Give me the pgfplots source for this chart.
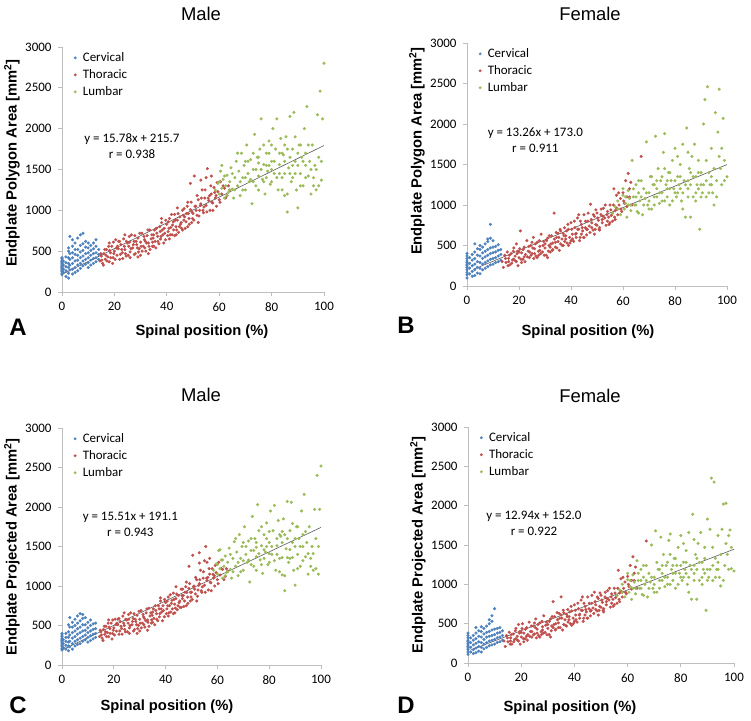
\documentclass[border=0pt]{standalone}
\usepackage{pgfplots}
\pgfplotsset{compat=1.18}
\usepackage{fontspec}
\setmainfont{Liberation Sans}
\newfontfamily\carl{Carlito}
\definecolor{cerv}{RGB}{79,129,189}
\definecolor{thor}{RGB}{192,80,77}
\definecolor{lumb}{RGB}{155,187,89}
\definecolor{axgray}{RGB}{190,190,190}
\definecolor{fitline}{RGB}{90,90,90}

\pgfplotsset{
  panel/.style={scale only axis,
    xmin=0,xmax=100,ymin=0,ymax=3000,
    xtick={0,20,...,100},ytick={0,500,...,3000},
    axis lines*=left,axis line style={draw=axgray,line width=0.8bp,-},
    xtick pos=left,ytick pos=left,
    tick style={draw=axgray,line width=0.8bp},tick align=outside,
    major tick length=4bp,
    tick label style={font=\carl\fontsize{13}{15}\selectfont},
    xticklabel style={yshift=-3bp},yticklabel style={xshift=-3bp},
    /pgf/number format/assume math mode=true,
    /pgf/number format/set thousands separator={},
    clip=false,
    legend cell align=left,
    legend image code/.code={\path[draw=none,fill=none] (0,0) rectangle (0.3cm,0.01cm);\fill[##1] (0.1cm,0cm) circle (1.2bp);},
    legend style={at={(0.035,0.99)},anchor=north west,draw=none,fill=none,
      font=\carl\fontsize{13}{16}\selectfont,row sep=2.5bp,inner sep=1pt},
  },
  cv/.style={only marks,mark=*,mark size=1.35bp,color=cerv,mark options={draw=none}},
  th/.style={only marks,mark=*,mark size=1.35bp,color=thor,mark options={draw=none}},
  lu/.style={only marks,mark=*,mark size=1.35bp,color=lumb,mark options={draw=none}},
  fit/.style={draw=fitline,line width=0.6bp,mark=none},
}

\begin{document}
\begin{tikzpicture}
\path[use as bounding box] (0,0) rectangle (751bp,-721bp);

% ---------------- A: male, polygon area
\begin{axis}[panel,at={(62bp,-292bp)},anchor=south west,width=262bp,height=245bp]
\addplot[cv] coordinates {
(0,210) (0,230) (0,250) (0,260) (0,275) (0,290) (0,300) (0,310) (0,320) (0,335) (0,350) (0,360) (0,375) (0,390) (0,410) (0,420)
(0.5,240) (0.5,280) (0.5,330) (0.5,380)
(1.5,190) (1.5,260) (1.5,310) (1.5,360) (1.5,430)
(2.5,170) (2.5,230) (2.5,300) (2.5,350) (2.5,420) (2.5,500) (2.5,540)
(3,270) (3,330) (3,400) (3,470) (3,680)
(4,220) (4,280) (4,350) (4,420) (4,480) (4,560) (4,640)
(5,240) (5,300) (5,380) (5,460) (5,520) (5,600)
(6,260) (6,330) (6,390) (6,450) (6,520) (6,660)
(7,290) (7,350) (7,420) (7,490) (7,570) (7,700)
(8,320) (8,380) (8,440) (8,510) (8,590) (8,720)
(9,340) (9,400) (9,470) (9,550) (9,620)
(10,300) (10,360) (10,420) (10,480) (10,540) (10,600)
(11,330) (11,390) (11,450) (11,510) (11,570)
(12,350) (12,410) (12,470) (12,530) (12,600)
(13,370) (13,420) (13,480) (13,560) (13,640)
(14,400) (14,460) (14,520)
};
\addlegendentry{Cervical}
\addplot[th] coordinates {
(14.5,380) (15,440) (15.5,350) (16,470) (16.5,400) (17,520) (17.5,430) (18,370) (18.5,480) (19,560) (19.5,420) (20,500) (20.5,640) (21,450) (21.5,530) (22,400) (22.5,580) (23,480) (23.5,650) (24,520) (24.5,440) (25,600) (25.5,560) (26,490) (26.5,700) (27,540) (27.5,620) (28,470) (28.5,580) (29,660) (29.5,530) (30,610) (30.5,720) (31,560) (31.5,640) (32,500) (32.5,690) (33,600) (33.5,760) (34,650) (34.5,560) (35,700) (35.5,620) (36,780) (36.5,680) (37,590) (37.5,740) (38,850) (38.5,700) (39,780) (39.5,640) (40,830) (40.5,740) (41,900) (41.5,790) (42,700) (42.5,860) (43,950) (43.5,800) (44,880) (44.5,730) (45,920) (45.5,850) (46,1000) (46.5,880) (47,780) (47.5,960) (48,1100) (48.5,900) (49,1010) (49.5,850) (50,960) (50.5,1420) (51,1050) (51.5,940) (52,1130) (52.5,1000) (53,1080) (53.5,1250) (54,970) (54.5,1150) (55,1060) (55.5,1510) (56,1120) (56.5,1000) (57,1200) (57.5,1090) (58,1280) (58.5,1150) (59,1050) (59.5,1230) (60,1130) (60.5,1350) (61,1200) (62,1270) (63,1180) (64,1250)
(15.2,390) (16.8,450) (18.2,510) (19.8,470) (21.2,560) (22.8,520) (24.2,470) (25.8,610) (27.2,580) (28.8,540) (30.2,560) (31.8,620) (33.2,560) (34.8,660) (36.2,720) (37.8,680) (39.2,720) (40.8,780) (42.2,820) (43.8,760) (45.2,830) (46.8,920) (48.2,960) (49.8,900) (51.2,1000) (52.8,1060) (54.2,1040) (55.8,1150) (57.2,1100) (58.8,1180) (22,620) (30,450) (35,560) (41,650) (46,760) (52,850) (57,1420) (18,600) (26,420) (44,1030)
(14.8,470) (15.8,330) (16.3,520) (17.2,380) (17.8,560) (18.6,420) (19.3,350) (19.6,610) (20.3,400) (20.8,540) (21.6,620) (22.3,460) (23.2,410) (23.8,560) (24.6,620) (25.3,450) (25.7,680) (26.3,530) (27.6,460) (27.8,690) (28.3,620) (29.2,490) (29.7,720) (30.6,500) (31.3,680) (31.6,540) (32.3,600) (32.8,760) (33.6,520) (34.3,700) (34.6,610) (35.3,760) (35.8,540) (36.6,620) (37.3,800) (37.6,650) (38.3,760) (38.8,600) (39.6,880) (40.3,690) (40.6,860) (41.3,700) (41.8,950) (42.6,760) (43.3,880) (43.6,700) (44.3,960) (44.8,800) (45.6,780) (46.3,940) (46.6,1020) (47.3,860) (47.8,1050) (48.6,830) (49.3,1100) (49.6,980) (50.3,880) (50.8,1050) (51.6,1180) (52.3,930) (53.2,1150) (53.8,1000) (54.6,1250) (55.3,980) (56.3,1180) (56.8,1300) (57.6,1000) (58.3,1220) (59.2,1340) (60.3,1100) (61.5,1300) (62.5,1150) (63.5,1300) (49,1330) (53,1370) (55,1400) (38,900) (24,700) (29,430) (33,470) (43,690) (48,800)
};
\addlegendentry{Thoracic}
\addplot[lu] coordinates {
(58.5,1250) (59.5,1330) (60,1200) (60.5,1480) (61,1270) (61.5,1380) (62,1150) (62.5,1300) (63,1430) (63.5,1220) (64,1350) (64.5,1520) (65,1260) (65.5,1150) (66,1400) (66.5,1600) (67,1300) (67.5,1480) (68,1180) (68.5,1700) (69,1400) (69.5,1550) (70,1250) (70.5,1800) (71,1450) (71.5,1350) (72,1620) (72.5,1080) (73,1500) (73.5,1930) (74,1300) (74.5,1650) (75,1420) (75.5,1750) (76,2120) (76.5,1380) (77,1560) (77.5,1200) (78,1700) (78.5,1480) (79,1850) (79.5,1320) (80,1600) (80.5,2000) (81,1450) (81.5,1750) (82,2120) (82.5,1250) (83,1560) (83.5,1880) (84,1400) (84.5,1680) (85,1180) (85.5,1900) (86,980) (86.5,1520) (87,2150) (87.5,1350) (88,1750) (88.5,2200) (89,1600) (89.5,1250) (90,1030) (90.5,1800) (91,1450) (91.5,1650) (92,1300) (92.5,2000) (93,1550) (93.5,2270) (94,1420) (94.5,1600) (95,1200) (95.5,1800) (96,1400) (96.5,1550) (97,1250) (97.5,2170) (98,1650) (98.5,2460) (99,1370) (99.5,2120) (100,2800)
(65,1450) (70,1600) (72,1380) (75,1250) (78,1400) (80,1350) (83,1450) (85,1600) (88,1400) (90,1550) (93,1700) (96,1300) (68,1350) (74,1500) (79,1550) (84,1700) (87,1650) (91,1800) (63,1180) (77,1800)
(60,1350) (61,1550) (62,1420) (64,1250) (66,1250) (67,1700) (69,1250) (71,1600) (73,1350) (73,1700) (75,1580) (76,1500) (77,1350) (79,1700) (80,1800) (81,1600) (82,1400) (83,1700) (84,1250) (85,1450) (86,1750) (86,1200) (87,1450) (88,1550) (89,1900) (90,1700) (91,1300) (92,1600) (94,1800) (95,1500) (97,1500) (98,1300) (99,1600) (80,1500) (70,1400) (75,1650) (85,1800) (89,1450) (93,1400) (78,1550)
};
\addlegendentry{Lumbar}
\addplot[fit,forget plot] coordinates {(0,215.7) (100,1793.7)};
\node[font=\carl\fontsize{13}{16}\selectfont,align=center] at (axis cs:26.7,1790) {y = 15.78x + 215.7\\r = 0.938};
\end{axis}

% ---------------- B: female, polygon area
\begin{axis}[panel,at={(467bp,-286bp)},anchor=south west,width=260bp,height=243bp]
\addplot[cv] coordinates {
(0,100) (0,140) (0,170) (0,200) (0,230) (0,250) (0,270) (0,290) (0,310) (0,340) (0,370) (0,400)
(1,150) (1,220) (1,280) (1,350)
(2,120) (2,180) (2,250) (2,320) (2,390)
(3,130) (3,200) (3,270) (3,340) (3,420) (3,520)
(4,160) (4,230) (4,300) (4,380) (4,460)
(5,150) (5,220) (5,290) (5,370) (5,450) (5,500)
(6,200) (6,270) (6,340) (6,410) (6,480)
(7,220) (7,290) (7,360) (7,430) (7,520)
(8,240) (8,310) (8,380) (8,450) (8,550) (8,580)
(9,260) (9,330) (9,400) (9,470) (9,590) (9,760)
(10,270) (10,340) (10,410) (10,480) (10,560)
(11,290) (11,350) (11,420) (11,490)
(12,300) (12,370) (12,440) (12,510)
(13,320) (13,390) (13,450)
};
\addlegendentry{Cervical}
\addplot[th] coordinates {
(13.5,300) (14,230) (14.5,380) (15,290) (15.5,420) (16,340) (16.5,260) (17,400) (17.5,320) (18,470) (18.5,370) (19,300) (19.5,430) (20,350) (20.5,680) (21,410) (21.5,330) (22,480) (22.5,390) (23,560) (23.5,430) (24,350) (24.5,500) (25,400) (25.5,600) (26,460) (26.5,370) (27,540) (27.5,430) (28,490) (28.5,640) (29,420) (29.5,550) (30,470) (30.5,380) (31,590) (31.5,500) (32,420) (32.5,620) (33,530) (33.5,900) (34,480) (34.5,600) (35,550) (35.5,440) (36,680) (36.5,580) (37,500) (37.5,720) (38,620) (38.5,530) (39,700) (39.5,600) (40,780) (40.5,640) (41,550) (41.5,720) (42,650) (42.5,840) (43,700) (43.5,600) (44,760) (44.5,680) (45,880) (45.5,720) (46,630) (46.5,800) (47,740) (47.5,1010) (48,780) (48.5,690) (49,860) (49.5,760) (50,900) (50.5,810) (51,720) (51.5,880) (52,780) (52.5,960) (53,840) (53.5,750) (54,920) (54.5,850) (55,1000) (55.5,870) (56,800) (56.5,1200) (57,930) (57.5,1120) (58,880) (58.5,1000) (59,1080) (59.5,920) (60,1150) (60.5,1020) (61,1300) (61.5,980) (62,1390) (62.5,1100) (63,1280) (67,1600)
(16,300) (18,330) (20,420) (22,360) (24,420) (26,400) (28,440) (30,520) (32,480) (34,540) (36,520) (38,580) (40,560) (42,600) (44,640) (46,700) (48,720) (50,750) (52,820) (54,800) (56,900) (58,950) (21,290) (27,350) (33,450) (39,500) (45,600) (51,690) (57,820) (35,650)
(14.8,340) (15.8,250) (16.3,380) (17.2,280) (17.8,430) (18.6,310) (19.3,400) (19.6,250) (20.3,460) (20.8,330) (21.6,450) (22.3,300) (23.2,360) (23.8,490) (24.6,380) (25.3,470) (25.7,340) (26.3,520) (27.6,380) (27.8,560) (28.3,400) (29.2,500) (29.7,380) (30.6,560) (31.3,430) (31.6,620) (32.3,520) (32.8,440) (33.6,580) (34.3,660) (34.6,470) (35.3,600) (35.8,700) (36.6,500) (37.3,620) (37.6,550) (38.3,680) (38.8,760) (39.6,530) (40.3,700) (40.6,580) (41.3,800) (41.8,640) (42.6,700) (43.3,560) (43.6,800) (44.3,720) (44.8,600) (45.6,800) (46.3,700) (46.6,900) (47.3,660) (47.8,820) (48.6,880) (49.3,700) (49.6,940) (50.3,840) (50.8,700) (51.6,950) (52.3,860) (53.2,1000) (53.8,880) (54.6,760) (55.3,940) (56.3,1000) (56.8,850) (57.6,960) (58.3,1150) (59.2,950) (60.3,1050) (61.5,1100) (62.5,1200) (63.5,1000) (19,520) (25,540) (31,350) (37,650) (43,880) (49,640) (55,780)
};
\addlegendentry{Thoracic}
\addplot[lu] coordinates {
(56,900) (57,980) (58,1050) (59,880) (60,1120) (60.5,950) (61,1020) (61.5,850) (62,1180) (62.5,1080) (63,930) (63.5,1550) (64,1100) (64.5,1000) (65,1250) (65.5,920) (66,1150) (66.5,1050) (67,1300) (67.5,880) (68,1200) (68.5,1080) (69,1780) (69.5,1000) (70,1150) (70.5,1350) (71,950) (71.5,1250) (72,1100) (72.5,1850) (73,1200) (73.5,1450) (74,1020) (74.5,1300) (75,1150) (75.5,1650) (76,1880) (76.5,1250) (77,1100) (77.5,1400) (78,1000) (78.5,1300) (79,1550) (79.5,1200) (80,1700) (80.5,1100) (81,1350) (81.5,1250) (82,1500) (82.5,1050) (83,1750) (83.5,1300) (84,850) (84.5,1950) (85,1200) (85.5,1450) (86,850) (86.5,1600) (87,1100) (87.5,1750) (88,1350) (88.5,1250) (89,1550) (89.5,700) (90,1400) (90.5,1150) (91,2000) (91.5,2300) (92,1300) (92.5,2460) (93,1400) (93.5,1250) (94,1700) (94.5,1150) (95,1000) (95.5,2140) (96,1300) (96.5,1900) (97,2430) (97.5,1450) (98,1250) (98.5,2070) (99,1300) (100,1350)
(62,1000) (65,1100) (68,1000) (70,1050) (73,1100) (75,1050) (78,1200) (80,1150) (83,1150) (85,1300) (88,1150) (90,1250) (92,1100) (94,1350) (66,1300) (72,1250) (77,1300) (82,1200) (86,1400) (89,1200)
(58,950) (60,1200) (61,1100) (63,1000) (64,1200) (65,1000) (66,900) (67,1100) (69,1150) (70,950) (71,1350) (72,1000) (73,1300) (74,1150) (75,1350) (76,1050) (77,1200) (78,1400) (79,1050) (80,1300) (81,1150) (82,1350) (83,950) (84,1250) (85,1100) (86,1250) (87,1350) (88,1050) (89,1400) (90,1100) (91,1250) (92,1550) (93,1150) (94,1250) (95,1450) (96,1100) (97,1600) (98,1700) (99,1550) (76,1450) (81,1600) (85,1650)
};
\addlegendentry{Lumbar}
\addplot[fit,forget plot] coordinates {(2.5,206.2) (100,1499)};
\node[font=\carl\fontsize{13}{16}\selectfont,align=center] at (axis cs:26.3,1800) {y = 13.26x + 173.0\\r = 0.911};
\end{axis}

% ---------------- C: male, projected area
\begin{axis}[panel,at={(62bp,-665bp)},anchor=south west,width=259bp,height=237bp]
\addplot[cv] coordinates {
(0,190) (0,210) (0,230) (0,250) (0,265) (0,280) (0,295) (0,310) (0,325) (0,340) (0,360) (0,380) (0,400)
(0.5,220) (0.5,270) (0.5,320)
(1.5,200) (1.5,250) (1.5,300) (1.5,350) (1.5,400)
(2.5,180) (2.5,240) (2.5,290) (2.5,350) (2.5,420) (2.5,510)
(3,230) (3,300) (3,380) (3,480) (3,600)
(4,200) (4,270) (4,340) (4,410) (4,480) (4,540)
(5,240) (5,300) (5,360) (5,430) (5,500) (5,580)
(6,260) (6,320) (6,390) (6,460) (6,530) (6,620)
(7,270) (7,340) (7,410) (7,480) (7,560) (7,650)
(8,300) (8,360) (8,430) (8,510) (8,590) (8,640)
(9,320) (9,380) (9,440) (9,510) (9,600)
(10,290) (10,350) (10,410) (10,470) (10,540)
(11,310) (11,370) (11,430) (11,500) (11,570)
(12,330) (12,390) (12,450) (12,520)
(13,350) (13,400) (13,460) (13,530)
};
\addlegendentry{Cervical}
\addplot[th] coordinates {
(14.5,360) (15,420) (15.5,340) (16,450) (16.5,390) (17,490) (17.5,410) (18,360) (18.5,460) (19,530) (19.5,400) (20,470) (20.5,580) (21,430) (21.5,510) (22,390) (22.5,550) (23,460) (23.5,620) (24,500) (24.5,420) (25,570) (25.5,530) (26,470) (26.5,660) (27,510) (27.5,590) (28,450) (28.5,550) (29,630) (29.5,500) (30,580) (30.5,690) (31,530) (31.5,610) (32,480) (32.5,660) (33,570) (33.5,720) (34,620) (34.5,530) (35,670) (35.5,590) (36,750) (36.5,650) (37,560) (37.5,710) (38,810) (38.5,670) (39,750) (39.5,610) (40,790) (40.5,710) (41,860) (41.5,750) (42,670) (42.5,820) (43,910) (43.5,770) (44,840) (44.5,700) (45,880) (45.5,810) (46,960) (46.5,840) (47,740) (47.5,920) (48,1050) (48.5,860) (49,970) (49.5,810) (50,920) (50.5,1390) (51,1000) (51.5,900) (52,1080) (52.5,950) (53,1030) (53.5,1200) (54,920) (54.5,1100) (55,1010) (55.5,1500) (56,1070) (56.5,950) (57,1150) (57.5,1040) (58,1220) (58.5,1100) (59,1000) (59.5,1170) (60,1080) (60.5,1300) (61,1140) (62,1210) (63,1120) (64,1190)
(15.2,380) (16.8,420) (18.2,480) (19.8,440) (21.2,530) (22.8,490) (24.2,450) (25.8,580) (27.2,550) (28.8,510) (30.2,530) (31.8,590) (33.2,540) (34.8,630) (36.2,690) (37.8,650) (39.2,690) (40.8,750) (42.2,780) (43.8,720) (45.2,790) (46.8,880) (48.2,920) (49.8,860) (51.2,960) (52.8,1010) (54.2,990) (55.8,1100) (57.2,1050) (58.8,1130) (22,590) (30,430) (35,540) (41,620) (46,730) (52,810) (57,1350) (18,570) (26,400) (44,990) (53,1420) (56,1300)
(14.8,440) (15.8,310) (16.3,490) (17.2,360) (17.8,530) (18.6,400) (19.3,330) (19.6,570) (20.3,380) (20.8,510) (21.6,580) (22.3,430) (23.2,390) (23.8,530) (24.6,580) (25.3,420) (25.7,640) (26.3,500) (27.6,430) (27.8,650) (28.3,580) (29.2,460) (29.7,680) (30.6,470) (31.3,640) (31.6,510) (32.3,560) (32.8,710) (33.6,490) (34.3,660) (34.6,570) (35.3,710) (35.8,510) (36.6,580) (37.3,750) (37.6,610) (38.3,710) (38.8,560) (39.6,830) (40.3,650) (40.6,810) (41.3,660) (41.8,890) (42.6,710) (43.3,830) (43.6,660) (44.3,900) (44.8,750) (45.6,730) (46.3,880) (46.6,960) (47.3,810) (47.8,990) (48.6,780) (49.3,1030) (49.6,920) (50.3,830) (50.8,990) (51.6,1110) (52.3,870) (53.2,1080) (53.8,940) (54.6,1180) (55.3,920) (56.3,1110) (56.8,1220) (57.6,940) (58.3,1150) (59.2,1260) (60.3,1030) (61.5,1220) (62.5,1080) (63.5,1220) (49,1250) (53,1290) (55,1320) (38,850) (24,660) (29,400) (33,440) (43,650) (48,750)
};
\addlegendentry{Thoracic}
\addplot[lu] coordinates {
(58.5,1200) (59.5,1280) (60,1150) (60.5,1450) (61,1220) (61.5,1330) (62,1100) (62.5,1250) (63,1380) (63.5,1170) (64,1300) (64.5,1480) (65,1210) (65.5,1100) (66,1350) (66.5,1560) (67,1250) (67.5,1430) (68,1130) (68.5,1650) (69,1350) (69.5,1500) (70,1200) (70.5,1750) (71,1400) (71.5,1300) (72,1570) (72.5,1050) (73,1450) (73.5,1880) (74,1250) (74.5,1600) (75,1370) (75.5,2030) (76,1700) (76.5,1330) (77,1510) (77.5,1160) (78,1650) (78.5,1430) (79,1800) (79.5,1270) (80,1550) (80.5,1950) (81,1400) (81.5,1700) (82,2020) (82.5,1200) (83,1510) (83.5,1830) (84,1350) (84.5,1630) (85,1140) (85.5,1850) (86,940) (86.5,1470) (87,2070) (87.5,1300) (88,1700) (88.5,2060) (89,1550) (89.5,1200) (90,1010) (90.5,1750) (91,1400) (91.5,1600) (92,1250) (92.5,1950) (93,1500) (93.5,2160) (94,1370) (94.5,1550) (95,1150) (95.5,1750) (96,1350) (96.5,1500) (97,1200) (97.5,1970) (98,1600) (98.5,2400) (99,1150) (99.5,1970) (100,2520)
(65,1400) (70,1550) (72,1330) (75,1200) (78,1350) (80,1300) (83,1400) (85,1550) (88,1350) (90,1500) (93,1650) (96,1250) (68,1300) (74,1450) (79,1500) (84,1650) (87,1600) (91,1750) (63,1130) (77,1750)
(60,1270) (61,1460) (62,1330) (64,1180) (66,1180) (67,1600) (69,1180) (71,1500) (73,1270) (73,1600) (75,1490) (76,1410) (77,1270) (79,1600) (80,1690) (81,1500) (82,1320) (83,1600) (84,1180) (85,1360) (86,1650) (86,1130) (87,1360) (88,1460) (89,1790) (90,1600) (91,1220) (92,1500) (94,1690) (95,1410) (97,1410) (98,1220) (99,1500) (80,1410) (70,1320) (75,1550) (85,1690) (89,1360) (93,1320) (78,1460)
};
\addlegendentry{Lumbar}
\addplot[fit,forget plot] coordinates {(0,191.1) (100,1742.1)};
\node[font=\carl\fontsize{13}{16}\selectfont,align=center] at (axis cs:26.4,1785) {y = 15.51x + 191.1\\r = 0.943};
\end{axis}

% ---------------- D: female, projected area
\begin{axis}[panel,at={(468bp,-663bp)},anchor=south west,width=266bp,height=236bp]
\addplot[cv] coordinates {
(0,110) (0,140) (0,170) (0,190) (0,210) (0,230) (0,250) (0,270) (0,290) (0,320) (0,350) (0,380)
(1,140) (1,200) (1,260) (1,320)
(2,120) (2,170) (2,230) (2,290) (2,350)
(3,130) (3,190) (3,250) (3,310) (3,380) (3,450)
(4,150) (4,210) (4,270) (4,340) (4,410)
(5,140) (5,200) (5,260) (5,330) (5,400) (5,460)
(6,180) (6,240) (6,300) (6,370) (6,440)
(7,200) (7,260) (7,330) (7,390) (7,470)
(8,220) (8,280) (8,340) (8,400) (8,500) (8,550)
(9,230) (9,290) (9,350) (9,420) (9,530) (9,600)
(10,240) (10,300) (10,360) (10,430) (10,690)
(11,260) (11,320) (11,380) (11,440)
(12,270) (12,330) (12,390) (12,450)
(13,290) (13,350) (13,410)
};
\addlegendentry{Cervical}
\addplot[th] coordinates {
(13.5,280) (14,210) (14.5,350) (15,270) (15.5,390) (16,320) (16.5,240) (17,370) (17.5,300) (18,440) (18.5,340) (19,280) (19.5,400) (20,330) (20.5,500) (21,380) (21.5,310) (22,450) (22.5,360) (23,520) (23.5,400) (24,330) (24.5,470) (25,370) (25.5,560) (26,430) (26.5,350) (27,510) (27.5,400) (28,460) (28.5,600) (29,390) (29.5,520) (30,440) (30.5,360) (31,560) (31.5,470) (32,780) (32.5,590) (33,500) (33.5,640) (34,450) (34.5,570) (35,840) (35.5,420) (36,640) (36.5,550) (37,470) (37.5,680) (38,590) (38.5,500) (39,660) (39.5,570) (40,740) (40.5,610) (41,520) (41.5,690) (42,620) (42.5,800) (43,670) (43.5,570) (44,720) (44.5,650) (45,840) (45.5,690) (46,600) (46.5,760) (47,700) (47.5,900) (48,740) (48.5,660) (49,820) (49.5,720) (50,860) (50.5,770) (51,690) (51.5,840) (52,740) (52.5,920) (53,800) (53.5,710) (54,880) (54.5,810) (55,950) (55.5,830) (56,760) (56.5,1180) (57,890) (57.5,1070) (58,840) (58.5,950) (59,1030) (59.5,880) (60,1100) (60.5,970) (61,1240) (61.5,940) (62,1350) (62.5,1050) (63,1220) (67,1550)
(16,280) (18,310) (20,390) (22,340) (24,400) (26,380) (28,420) (30,490) (32,450) (34,510) (36,490) (38,550) (40,530) (42,570) (44,610) (46,660) (48,680) (50,710) (52,780) (54,760) (56,860) (58,900) (21,270) (27,330) (33,430) (39,480) (45,570) (51,650) (57,780) (35,610)
(14.8,320) (15.8,240) (16.3,360) (17.2,270) (17.8,410) (18.6,290) (19.3,380) (19.6,240) (20.3,440) (20.8,310) (21.6,430) (22.3,290) (23.2,340) (23.8,470) (24.6,360) (25.3,450) (25.7,320) (26.3,490) (27.6,360) (27.8,530) (28.3,380) (29.2,480) (29.7,360) (30.6,530) (31.3,410) (31.6,590) (32.3,490) (32.8,420) (33.6,550) (34.3,630) (34.6,450) (35.3,570) (35.8,670) (36.6,480) (37.3,590) (37.6,520) (38.3,650) (38.8,720) (39.6,500) (40.3,670) (40.6,550) (41.3,760) (41.8,610) (42.6,670) (43.3,530) (43.6,760) (44.3,680) (44.8,570) (45.6,760) (46.3,670) (46.6,860) (47.3,630) (47.8,780) (48.6,840) (49.3,670) (49.6,890) (50.3,800) (50.8,670) (51.6,900) (52.3,820) (53.2,950) (53.8,840) (54.6,720) (55.3,890) (56.3,950) (56.8,810) (57.6,910) (58.3,1090) (59.2,900) (60.3,1000) (61.5,1050) (62.5,1140) (63.5,950) (19,490) (25,510) (31,330) (37,620) (43,840) (49,610) (55,740)
};
\addlegendentry{Thoracic}
\addplot[lu] coordinates {
(56,860) (57,930) (58,1000) (59,840) (60,1060) (60.5,900) (61,970) (61.5,810) (62,1120) (62.5,1030) (63,880) (63.5,1300) (64,1050) (64.5,950) (65,1190) (65.5,870) (66,1090) (66.5,1000) (67,1240) (67.5,840) (68,1140) (68.5,1030) (69,1500) (69.5,950) (70,1090) (70.5,1680) (71,900) (71.5,1190) (72,1050) (72.5,1600) (73,1140) (73.5,1380) (74,970) (74.5,1240) (75,1090) (75.5,1560) (76,1640) (76.5,1190) (77,1050) (77.5,1330) (78,950) (78.5,1240) (79,1470) (79.5,1140) (80,1620) (80.5,1050) (81,1280) (81.5,1190) (82,1430) (82.5,1000) (83,1660) (83.5,1240) (84,810) (84.5,1890) (85,1140) (85.5,1380) (86,810) (86.5,1520) (87,1050) (87.5,1660) (88,1280) (88.5,1190) (89,1470) (89.5,670) (90,1830) (90.5,1090) (91,1700) (91.5,2350) (92,1240) (92.5,2300) (93,1330) (93.5,1190) (94,1620) (94.5,1090) (95,980) (95.5,1700) (96,2020) (96.5,1240) (97,2030) (97.5,1380) (98,1190) (98.5,1690) (99,1200) (100,1170)
(62,950) (65,1050) (68,950) (70,1000) (73,1050) (75,1000) (78,1140) (80,1090) (83,1090) (85,1240) (88,1090) (90,1190) (92,1050) (94,1280) (66,1240) (72,1190) (77,1240) (82,1140) (86,1330) (89,1140)
(58,900) (60,1140) (61,1050) (63,950) (64,1140) (65,950) (66,860) (67,1050) (69,1090) (70,900) (71,1280) (72,950) (73,1240) (74,1090) (75,1280) (76,1000) (77,1140) (78,1330) (79,1000) (80,1240) (81,1090) (82,1280) (83,900) (84,1190) (85,1050) (86,1190) (87,1280) (88,1000) (89,1330) (90,1050) (91,1190) (92,1470) (93,1090) (94,1190) (95,1380) (96,1050) (97,1520) (98,1620) (99,1470) (76,1380) (81,1520) (85,1570)
};
\addlegendentry{Lumbar}
\addplot[fit,forget plot] coordinates {(1,164.9) (100,1446)};
\node[font=\carl\fontsize{13}{16}\selectfont,align=center] at (axis cs:24.8,1775) {y = 12.94x + 152.0\\r = 0.922};
\end{axis}

% titles, axis labels, panel letters
\tikzset{ttl/.style={font=\fontsize{18.5}{20}\selectfont},
  lab/.style={font=\bfseries\fontsize{14.8}{16}\selectfont},
  let/.style={font=\bfseries\fontsize{24}{26}\selectfont}}
\node[ttl] at (201bp,-14bp) {Male};
\node[ttl] at (590bp,-14bp) {Female};
\node[ttl] at (201bp,-395bp) {Male};
\node[ttl] at (590bp,-396bp) {Female};
\node[lab] at (202bp,-332bp) {Spinal position (\%)};
\node[lab] at (588bp,-332bp) {Spinal position (\%)};
\node[lab] at (167bp,-707bp) {Spinal position (\%)};
\node[lab] at (570bp,-708bp) {Spinal position (\%)};
\node[lab,rotate=90] at (12bp,-163bp) {Endplate Polygon Area [mm\textsuperscript{2}]};
\node[lab,rotate=90] at (417bp,-151bp) {Endplate Polygon Area [mm\textsuperscript{2}]};
\node[lab,rotate=90] at (12bp,-547bp) {Endplate Projected Area [mm\textsuperscript{2}]};
\node[lab,rotate=90] at (418bp,-545bp) {Endplate Projected Area [mm\textsuperscript{2}]};
\node[let] at (18bp,-327bp) {A};
\node[let] at (406bp,-325bp) {B};
\node[let] at (18bp,-705bp) {C};
\node[let] at (406bp,-705bp) {D};
\end{tikzpicture}
\end{document}
